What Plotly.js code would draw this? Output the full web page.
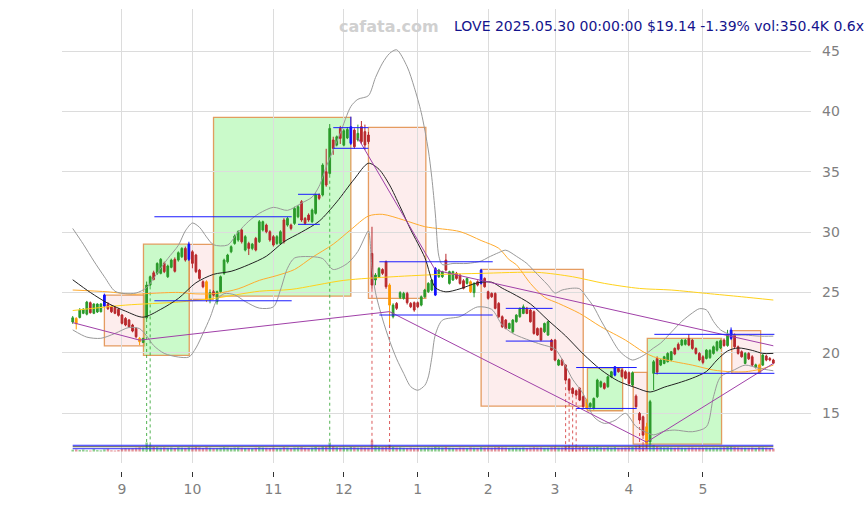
<!DOCTYPE html>
<html><head><meta charset="utf-8">
<script src="https://cdn.plot.ly/plotly-3.0.1.min.js"></script>
<style>html,body{margin:0;padding:0;background:#fff}#chart{width:868px;height:505px}</style>
</head><body><div id="chart"></div>
<script>
// ---- OHLC (trading-day index 0 = 2024-08-13 ... 199 = 2025-05-30) ----
const opens = [22.55,22.85,22.93,23.27,23.20,24.15,23.27,23.38,23.40,23.87,
24.01,23.85,23.76,23.60,23.13,22.85,22.71,22.30,22.02,21.19,
20.86,22.90,25.61,26.63,26.58,26.58,27.41,26.30,27.08,27.74,
27.68,27.96,28.65,27.74,28.37,28.10,26.85,25.89,25.89,24.51,
25.06,24.23,25.06,26.58,27.54,28.37,29.06,29.34,30.17,28.51,
29.06,28.65,29.48,29.20,30.17,30.58,30.03,29.62,29.06,29.06,
31.00,30.58,30.58,30.72,31.27,32.52,31.13,31.41,30.86,31.55,
33.07,33.07,35.00,34.86,37.63,37.21,38.59,37.20,37.80,37.35,
38.45,37.63,38.73,38.32,38.04,28.23,26.03,26.30,26.90,27.54,
25.61,22.99,24.09,24.59,24.51,24.92,24.09,24.15,24.15,23.95,
24.64,25.06,25.20,24.78,26.30,26.30,27.68,25.75,26.03,26.58,
26.44,25.97,25.75,25.89,24.98,25.89,25.75,26.16,25.06,24.92,
24.92,24.09,22.99,22.71,22.02,21.74,22.57,22.99,23.26,23.68,
23.54,23.40,22.02,22.02,21.74,21.47,21.05,21.05,18.98,19.40,
18.98,17.80,17.05,16.85,17.05,16.36,16.08,15.53,15.39,16.36,
17.19,17.46,17.19,18.01,18.15,18.70,18.57,18.43,18.35,17.33,
16.41,14.98,14.70,13.87,12.63,18.30,19.53,18.98,19.12,19.26,
19.40,20.36,20.70,20.64,20.70,21.19,21.05,20.36,19.95,19.67,
19.53,19.60,19.95,20.22,20.40,21.05,20.60,21.19,21.47,20.50,
20.09,19.12,19.95,19.67,18.80,18.98,18.98,19.73,19.53,19.40];
const highs = [23.05,22.95,23.70,23.70,24.30,24.25,24.10,24.10,24.10,24.90,
24.20,23.95,23.85,23.70,23.20,22.95,22.80,22.40,22.10,21.30,
21.25,25.90,26.40,26.80,27.50,27.85,27.55,27.30,27.80,27.90,
28.40,28.75,28.80,29.20,28.50,28.20,26.95,26.00,26.00,25.25,
25.20,25.15,26.40,27.80,28.20,28.90,29.80,30.15,30.30,29.75,
29.20,29.10,29.60,31.00,30.95,30.70,30.15,29.75,29.75,30.15,
31.15,31.25,30.70,32.10,32.25,32.65,31.25,31.55,31.95,33.20,
33.20,35.70,36.90,38.95,37.90,38.00,38.80,38.55,38.70,39.56,
38.60,38.90,39.20,38.90,38.30,30.44,26.60,27.10,27.00,27.65,
25.75,24.10,24.20,25.10,25.05,25.05,24.20,24.25,24.25,24.75,
25.30,25.85,26.10,27.10,26.95,26.80,28.20,26.80,26.80,26.70,
26.55,26.10,26.25,26.00,25.85,26.00,26.95,26.25,25.15,25.00,
25.00,24.20,23.10,22.80,22.50,22.80,23.20,23.75,24.00,23.80,
23.65,23.50,22.10,22.10,22.50,22.65,21.15,21.15,19.50,19.50,
19.05,17.90,17.15,16.95,17.15,16.45,16.20,15.90,16.30,17.85,
17.70,17.55,18.10,18.50,18.90,18.80,18.70,18.55,18.45,18.45,
16.55,15.10,14.80,14.20,16.10,19.40,19.70,19.45,19.75,20.05,
20.15,20.45,20.85,21.15,21.15,21.55,21.15,20.45,20.05,19.80,
20.30,20.30,20.60,21.00,21.10,21.20,21.90,22.10,21.60,20.60,
20.20,20.05,20.05,19.80,19.10,19.10,19.90,19.85,19.65,19.50];
const lows = [22.40,21.94,22.85,23.20,23.10,23.25,23.20,23.30,23.35,23.80,
23.55,23.30,23.20,23.00,22.35,22.20,22.05,21.70,21.20,20.64,
20.80,22.80,25.50,26.00,26.45,26.50,26.60,26.20,27.00,26.65,
27.55,27.85,27.55,27.60,27.00,26.60,26.05,25.35,24.20,24.10,
24.70,24.00,24.95,26.45,27.40,28.25,28.95,29.20,29.05,28.40,
28.10,28.50,28.40,29.10,30.05,29.90,29.20,28.80,28.95,28.95,
29.05,30.45,30.15,30.60,31.15,30.85,30.60,30.85,30.75,31.45,
32.65,32.95,33.75,34.75,36.40,37.10,37.30,37.10,37.70,37.21,
36.90,37.50,37.30,36.80,37.30,25.30,25.60,26.20,26.45,25.30,
22.30,22.85,23.55,24.45,24.40,24.00,23.70,23.40,23.70,23.85,
24.55,24.95,25.10,24.70,26.20,26.20,26.75,25.65,25.95,26.05,
25.65,25.25,25.65,24.95,24.60,25.50,25.65,25.40,24.40,24.55,
23.60,22.90,22.05,21.95,21.95,21.65,22.50,22.90,23.20,23.20,
22.50,21.50,21.40,20.95,21.65,21.40,20.15,19.30,18.90,18.90,
17.65,16.85,16.55,16.40,16.00,15.45,15.30,15.45,15.30,16.25,
17.10,16.95,17.10,17.90,18.05,18.35,17.95,17.80,17.35,17.25,
15.45,14.35,13.10,12.30,12.40,16.90,18.20,18.90,19.05,19.20,
19.30,19.80,20.20,20.55,20.60,20.55,20.25,19.85,19.30,19.05,
19.45,19.50,19.85,20.10,20.30,20.50,20.50,21.05,20.40,19.85,
19.60,19.05,19.40,18.90,18.70,18.30,18.90,19.30,19.30,19.05];
const closes = [22.90,22.40,23.54,23.60,24.20,23.32,24.04,24.04,24.05,24.78,
23.65,23.40,23.27,23.10,22.44,22.30,22.16,21.80,21.33,20.92,
21.19,25.61,26.30,26.08,27.40,27.74,26.72,27.19,27.68,26.75,
28.29,28.65,27.68,29.00,27.41,26.72,26.16,25.47,24.37,24.98,
24.78,25.06,26.30,27.68,28.10,28.79,29.67,30.03,29.20,29.62,
28.65,29.00,28.51,30.86,30.86,30.03,29.34,28.93,29.62,30.03,
29.20,31.13,30.30,31.96,32.10,31.00,30.72,31.00,31.83,33.07,
32.79,35.55,33.90,38.59,36.93,37.90,37.76,38.40,38.50,38.73,
37.07,38.18,37.49,37.21,37.49,25.61,26.44,26.99,26.58,25.47,
23.95,23.95,23.68,24.98,24.92,24.15,23.81,23.54,23.81,24.64,
25.20,25.75,26.03,26.99,26.85,26.72,26.85,26.72,26.72,26.16,
25.75,25.34,26.16,25.06,25.75,25.61,26.85,25.47,24.51,24.64,
23.68,22.99,22.16,22.02,22.43,22.71,23.12,23.68,23.81,23.26,
22.57,21.60,21.47,21.05,22.43,22.57,20.22,19.40,19.40,18.98,
17.74,16.91,16.63,16.50,16.08,15.53,15.39,15.81,16.22,17.74,
17.60,17.05,18.01,18.43,18.84,18.43,18.02,17.88,17.46,18.35,
15.53,14.43,13.18,12.49,15.95,19.26,18.40,19.40,19.67,19.95,
20.09,19.90,20.30,21.05,21.05,20.64,20.36,19.95,19.40,19.20,
20.22,20.20,20.50,20.91,21.00,20.60,21.50,21.88,20.50,19.95,
19.67,19.95,19.50,18.98,19.00,18.43,19.81,19.40,19.41,19.14];
// volume in thousands
const volumes = [220,260,180,240,150,120,300,170,140,260,
330,150,120,180,360,420,380,400,460,520,
480,1100,820,560,520,470,500,450,480,430,
510,470,440,520,480,560,500,430,520,460,
380,400,450,520,470,440,480,500,460,430,
420,380,460,520,480,450,430,470,400,440,
520,470,410,480,500,530,450,420,470,560,
480,620,590,1100,650,520,480,500,460,580,
520,470,500,480,460,1350,720,580,540,600,
820,560,480,500,450,430,470,440,420,460,
480,500,470,560,520,480,540,460,440,430,
470,450,420,500,460,440,520,480,500,470,
520,550,500,480,440,460,470,450,480,430,
470,520,480,500,450,460,520,560,480,500,
680,640,620,650,580,600,560,520,540,560,
500,470,520,480,540,460,480,500,520,560,
680,720,760,850,1000,800,620,540,500,520,
480,460,500,470,450,480,500,460,480,440,
470,450,480,460,500,520,560,600,540,500,
470,460,450,480,440,520,500,460,420,350.4];
const orangeIdx = [1,19,38,90,113,146,163,195];
const blueIdx = [9,33,79,103,116,154,187];
const monthTickIdx = [14,34,57,77,98,118,137,158,179];
const monthTickText = ['9','10','11','12','1','2','3','4','5'];

// ---- indicator lines ----
const ma20Idx = [0,5,10,15,20,25,30,35,40,45,50,55,60,65,70,75,80,84,87,90,93,96,100,103,106,110,115,119,122,125,130,135,140,145,150,155,160,164,168,172,176,180,183,186,189,193,196,199];
const ma20Val = [26.05,25.0,24.1,23.45,22.95,23.6,24.5,25.8,26.5,26.75,27.3,28.0,29.2,30.0,30.9,32.5,34.4,35.7,35.2,33.9,32.1,30.2,27.9,25.4,25.05,25.3,25.8,25.85,25.35,24.9,24.05,22.7,21.4,19.9,18.6,17.65,17.1,16.75,17.15,17.5,17.9,18.45,19.4,20.15,20.4,20.2,19.95,19.95];
const bbUpIdx = [0,3,6,9,12,15,18,21,24,27,30,32,34,36,38,40,44,47,50,53,57,61,65,68,70,72,74,76,79,81,84,86,88,90,92,95,97,99,101,102,103,104,105,108,112,116,118,121,123,126,129,131,133,135,137,139,142,144,146,148,150,152,155,157,159,161,163,165,167,170,173,176,178,180,182,184,187,191,195,199];
const bbUpVal = [30.3,29.0,27.6,26.3,25.1,24.9,24.95,25.4,26.6,27.8,28.9,30.1,30.75,30.4,29.6,28.95,28.93,30.0,30.9,31.55,32.05,31.8,32.4,32.9,33.8,35.4,36.8,38.2,40.4,41.0,41.3,42.8,44.0,44.8,45.1,43.7,42.0,39.9,36.8,34.5,31.5,28.0,27.3,27.4,27.4,27.6,27.9,28.3,28.5,28.0,27.4,26.8,26.2,25.6,24.95,25.2,25.35,25.3,24.6,23.8,22.7,21.7,20.25,19.7,19.4,19.6,19.95,20.4,20.8,21.7,22.6,23.3,23.65,23.55,22.6,21.9,21.5,21.47,21.38,21.38];
const bbLoIdx = [0,4,8,12,16,19,21,23,26,30,33,35,37,39,41,43,46,49,53,57,59,61,63,68,71,74,78,81,83,84,85,86,88,90,92,94,96,98,100,101,102,103,105,110,115,119,122,125,130,133,137,140,142,145,148,151,154,157,160,163,165,168,171,176,180,182,184,188,191,195,199];
const bbLoVal = [21.9,21.3,21.2,21.6,22.1,22.0,21.4,20.6,19.95,19.65,19.65,20.4,21.6,22.9,24.4,24.9,24.8,24.25,23.7,23.8,25.2,27.0,27.85,27.96,27.8,26.9,27.4,28.4,29.6,30.1,27.0,25.0,22.8,21.0,19.5,18.3,17.2,16.9,17.3,18.0,19.6,21.5,22.7,23.0,23.8,23.6,22.3,21.6,21.0,20.7,20.3,18.9,17.8,16.6,14.7,14.15,14.4,14.98,13.9,13.4,13.2,13.5,13.6,13.46,13.87,16.36,18.0,18.6,18.98,18.71,18.51];
const ma50Idx = [0,10,17,22,30,35,41,47,53,58,63,68,74,79,84,88,94,100,110,116,121,124,126,130,134,138,144,150,157,162,165,171,176,182,187,191,195,199];
const ma50Val = [25.2,25.05,24.85,24.92,25.0,24.88,24.92,25.3,26.0,26.4,26.9,27.9,29.0,30.2,31.33,31.47,31.0,30.45,30.04,29.3,28.66,27.7,27.3,25.75,24.6,24.09,23.26,22.16,21.05,20.09,19.67,19.26,18.98,18.57,18.43,18.43,18.62,18.98];
const ma200Idx = [0,15,30,40,53,62,77,91,105,116,132,142,151,161,170,180,190,199];
const ma200Val = [23.5,23.95,24.2,24.5,25.1,25.25,26.0,26.3,26.5,26.58,26.66,26.3,25.75,25.33,25.2,24.92,24.64,24.37];
const trendAIdx = [0,19,90,163,199];
const trendAVal = [22.5,21.05,23.41,12.6,19.12];
const trendBIdx = [81,103,199];
const trendBVal = [37.8,26.85,20.58];

// ---- zones, levels, signals ----
const boxStart = [9,20.1,33.1,40,84,116,146.2,159.2,163.2,187.2];
const boxEnd = [20.4,33.1,39.9,79,100.3,145,156.2,163.2,184.3,195.4];
const boxTop = [24.78,29.0,28.98,39.5,38.68,26.91,18.76,18.38,21.19,21.83];
const boxBottom = [20.58,19.79,24.43,24.7,24.51,15.59,15.2,12.44,12.44,18.3];
const boxKind = ['down','up','down','up','down','down','up','down','up','down'];
const levelStart = [23.2,23.2,64,64,74,74,87.1,87.1,123,123,143,143,165.2,165.2];
const levelEnd = [62.2,62.2,70.2,70.2,84,84,119.3,119.3,136.3,136.3,160.2,160.2,199.3,199.3];
const levelPrice = [24.31,31.27,33.13,30.64,38.65,36.94,27.54,23.13,23.68,20.97,18.78,15.39,21.53,18.3];
const signalIdx = [21,22,73,85,90,140,141,142,143,161,162,163];
const signalKind = ['buy','buy','buy','sell','sell','sell','sell','sell','sell','sell','sell','sell'];
const volLevels = [760,585,340];

const priceRange = [10.87,48.48];
const volRange = [-1403,53985];

const idx = closes.map((_, i) => i);
const special = new Set(orangeIdx.concat(blueIdx));
const mainIdx = idx.filter(i => !special.has(i));
const pick = (arr, ids) => ids.map(i => arr[i]);

const GREEN = '#2a9a2a', RED = '#b8282c';
const traces = [];

// volume bars
traces.push({type:'bar', x: idx, y: volumes, yaxis:'y2', width:0.7,
  marker:{color: idx.map(i => closes[i] >= opens[i] ? 'rgba(60,170,60,0.6)' : 'rgba(205,60,70,0.55)')},
  hoverinfo:'skip'});
volLevels.forEach((v, k) => traces.push({type:'scatter', mode:'lines', yaxis:'y2',
  x:[idx[0], idx[idx.length-1]], y:[v, v],
  line:{color: k === 1 ? '#555' : '#2b2bff', width:1}, hoverinfo:'skip'}));

// signal dotted lines
const basePrice = priceRange[0] + (-volRange[0]/(volRange[1]-volRange[0]))*(priceRange[1]-priceRange[0]);
signalIdx.forEach((s, k) => traces.push({type:'scatter', mode:'lines',
  x:[s, s], y:[lows[s], basePrice],
  line:{color: signalKind[k] === 'buy' ? 'rgba(40,160,40,0.8)' : 'rgba(210,50,50,0.8)', width:1, dash:'dot'},
  hoverinfo:'skip'}));

// indicator lines
const lineTrace = (xs, ys, color, w) => ({type:'scatter', mode:'lines', x:xs, y:ys,
  line:{color:color, width:w, shape:'spline', smoothing:0.8}, hoverinfo:'skip'});
traces.push(lineTrace(ma200Idx, ma200Val, '#ffd21a', 1));
traces.push(lineTrace(ma50Idx, ma50Val, '#ffab2e', 1));
traces.push(lineTrace(bbUpIdx, bbUpVal, '#999999', 1));
traces.push(lineTrace(bbLoIdx, bbLoVal, '#999999', 1));
traces.push(lineTrace(ma20Idx, ma20Val, '#222222', 1));
traces.push({type:'scatter', mode:'lines', x:trendAIdx, y:trendAVal, line:{color:'#a040a8', width:1}, hoverinfo:'skip'});
traces.push({type:'scatter', mode:'lines', x:trendBIdx, y:trendBVal, line:{color:'#a040a8', width:1}, hoverinfo:'skip'});

// candles
traces.push({type:'candlestick', x: mainIdx, open: pick(opens, mainIdx), high: pick(highs, mainIdx),
  low: pick(lows, mainIdx), close: pick(closes, mainIdx),
  increasing:{line:{color:GREEN, width:1}, fillcolor:GREEN},
  decreasing:{line:{color:RED, width:1}, fillcolor:RED}, hoverinfo:'skip'});
traces.push({type:'candlestick', x: orangeIdx, open: pick(opens, orangeIdx), high: pick(highs, orangeIdx),
  low: pick(lows, orangeIdx), close: pick(closes, orangeIdx),
  increasing:{line:{color:'#ff9900', width:1}, fillcolor:'#ff9900'},
  decreasing:{line:{color:'#ff9900', width:1}, fillcolor:'#ff9900'}, hoverinfo:'skip'});
traces.push({type:'candlestick', x: blueIdx, open: pick(opens, blueIdx), high: pick(highs, blueIdx),
  low: pick(lows, blueIdx), close: pick(closes, blueIdx),
  increasing:{line:{color:'#1010ff', width:1}, fillcolor:'#1010ff'},
  decreasing:{line:{color:'#1010ff', width:1}, fillcolor:'#1010ff'}, hoverinfo:'skip'});

// blue levels
levelPrice.forEach((p, k) => traces.push({type:'scatter', mode:'lines',
  x:[levelStart[k], levelEnd[k]], y:[p, p], line:{color:'#1a1aff', width:1}, hoverinfo:'skip'}));

const shapes = boxStart.map((s, k) => ({type:'rect', xref:'x', yref:'y', layer:'below',
  x0:s, x1:boxEnd[k], y0:boxBottom[k], y1:boxTop[k],
  fillcolor: boxKind[k] === 'up' ? 'rgba(150,245,150,0.5)' : 'rgba(250,215,215,0.45)',
  line:{color:'rgba(225,140,70,0.85)', width:1.3}}));

const tickFont = {family:'DejaVu Sans, sans-serif', size:14, color:'#7f7f7f'};
const layout = {
  width:868, height:505, margin:{l:62, r:57, t:9, b:34},
  paper_bgcolor:'#ffffff', plot_bgcolor:'#ffffff', showlegend:false, hovermode:false,
  boxgap:0.3,
  xaxis:{range:[-3.04, 209.7], tickmode:'array', tickvals:monthTickIdx, ticktext:monthTickText,
    showgrid:true, gridcolor:'#dcdcdc', gridwidth:1, zeroline:false, showline:false,
    ticks:'outside', ticklen:5, tickcolor:'#333', tickwidth:1, tickfont:tickFont,
    anchor:'free', position:0, rangeslider:{visible:false}, fixedrange:true},
  yaxis:{domain:[0.0173, 1], range:priceRange, side:'right', tickmode:'array',
    tickvals:[15,20,25,30,35,40,45], showgrid:true, gridcolor:'#dcdcdc', gridwidth:1,
    zeroline:false, showline:false, ticks:'', ticklabelstandoff:10, tickfont:tickFont, fixedrange:true},
  yaxis2:{overlaying:'y', range:volRange, visible:false, fixedrange:true},
  shapes: shapes,
  annotations:[
    {xref:'paper', yref:'paper', x:0.4366, y:0.963, xanchor:'center', yanchor:'middle', showarrow:false,
     text:'<b>cafata.com</b>', font:{family:'DejaVu Sans, sans-serif', size:16, color:'#d0d0d0'}},
    {xref:'paper', yref:'paper', x:0.5207, y:0.963, xanchor:'left', yanchor:'middle', showarrow:false,
     text:'LOVE 2025.05.30 00:00:00 $19.14 -1.39% vol:350.4K 0.6x',
     font:{family:'DejaVu Sans, sans-serif', size:14, color:'#14148c'}}
  ]
};
Plotly.newPlot('chart', traces, layout, {staticPlot:true, displayModeBar:false});
</script>
</body></html>
